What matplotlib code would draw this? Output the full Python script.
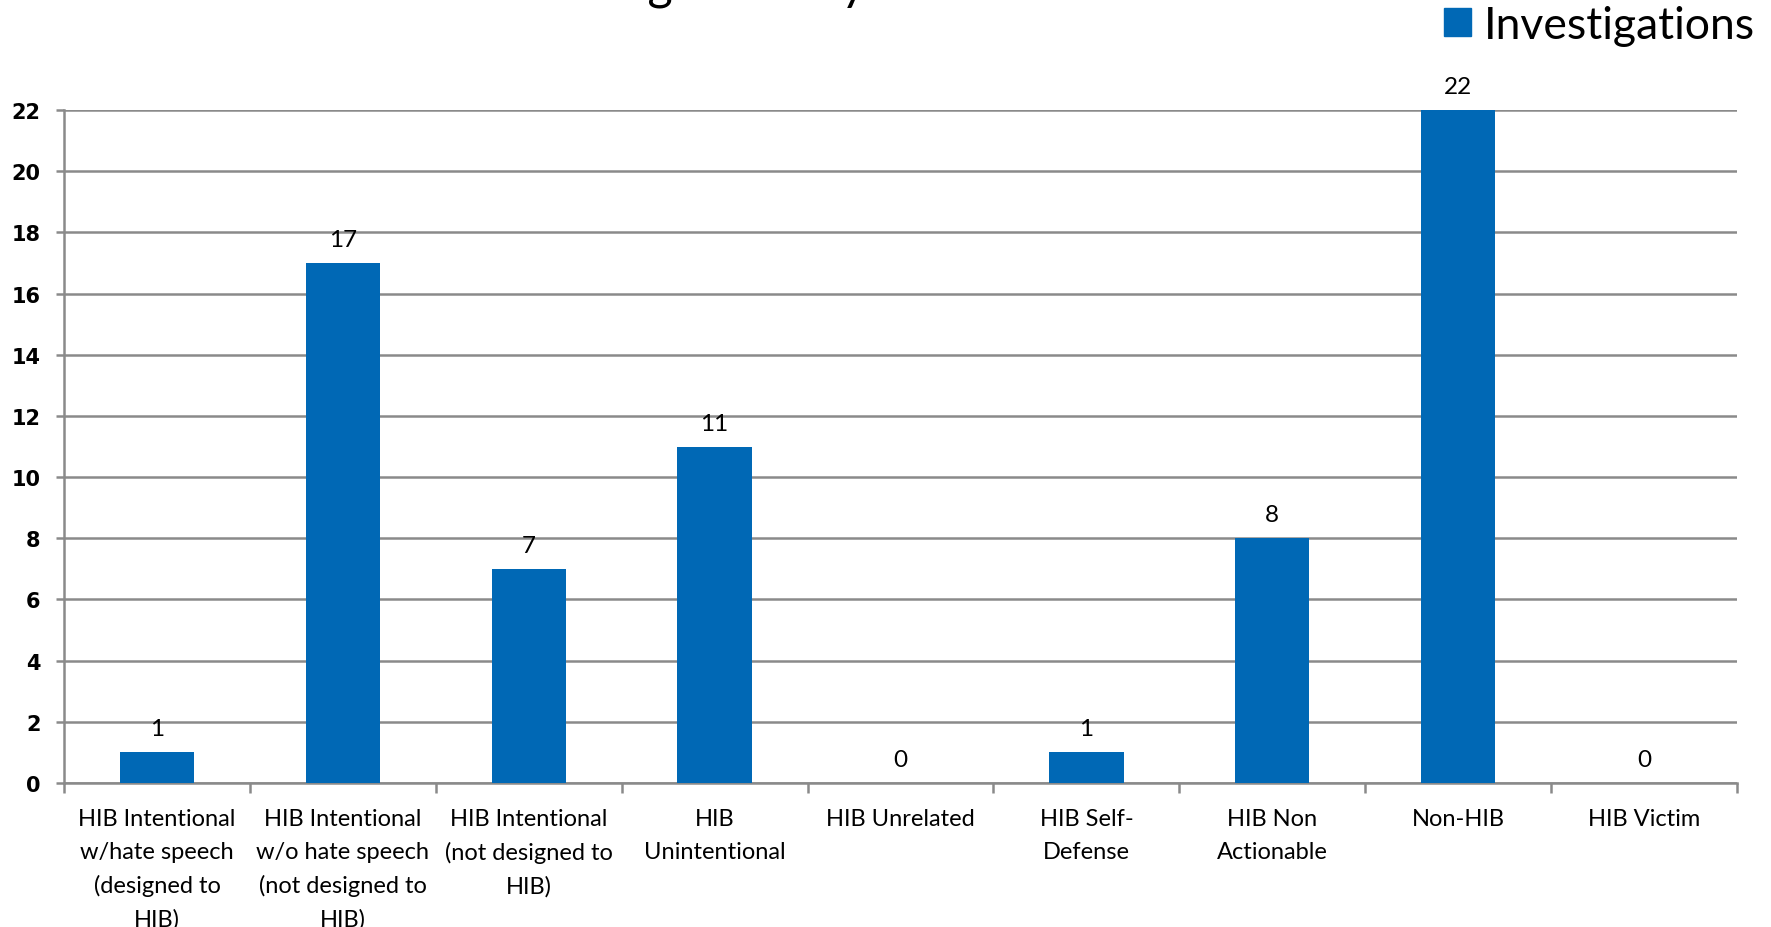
import matplotlib
matplotlib.use("Agg")
import matplotlib.pyplot as plt
from matplotlib.patches import Patch

# Findings per category
categories = [
    "HIB Intentional\nw/hate speech\n(designed to\nHIB)",
    "HIB Intentional\nw/o hate speech\n(not designed to\nHIB)",
    "HIB Intentional\n(not designed to\nHIB)",
    "HIB\nUnintentional",
    "HIB Unrelated",
    "HIB Self-\nDefense",
    "HIB Non\nActionable",
    "Non-HIB",
    "HIB Victim",
]
investigations = [1, 17, 7, 11, 0, 1, 8, 22, 0]
y_ticks = [0, 2, 4, 6, 8, 10, 12, 14, 16, 18, 20, 22]
series_name = "Investigations"
title_text = "Investigations by Outcome"

BAR = "#0068B5"
GRID = "#8A8A8A"
W, H = 1771, 928

fig = plt.figure(figsize=(W / 100, H / 100), dpi=100)
ax = fig.add_axes([64 / W, 1 - 784 / H, (1737 - 64) / W, (784 - 111) / H])

xs = list(range(len(categories)))
ax.bar(xs, investigations, width=0.4, color=BAR, zorder=3)

ax.set_xlim(-0.5, len(categories) - 0.5)
ax.set_ylim(0, 22)

# y axis: bold tick labels and horizontal gridlines
ax.set_yticks(y_ticks)
ax.set_yticklabels([str(v) for v in y_ticks], fontfamily="DejaVu Sans",
                   fontweight="bold", fontsize=15)
ax.yaxis.grid(True, color=GRID, lw=1.8, zorder=0)
ax.set_axisbelow(True)
ax.tick_params(axis="y", length=6, width=1.8, color=GRID, pad=11)

# x axis: tick marks between categories, labels centred under bars
ax.set_xticks([i - 0.5 for i in range(len(categories) + 1)])
ax.set_xticklabels([])
ax.set_xticks(xs, minor=True)
ax.set_xticklabels(categories, minor=True, fontfamily="Lato", fontsize=17,
                   linespacing=1.68, va="top", ha="center")
ax.tick_params(axis="x", which="major", length=7, width=1.8, color=GRID,
               direction="out")
ax.tick_params(axis="x", which="minor", length=0, pad=18)

for side in ("top", "right"):
    ax.spines[side].set_visible(False)
for side in ("left", "bottom"):
    ax.spines[side].set_color(GRID)
    ax.spines[side].set_linewidth(1.8)

# value labels above each bar
for x, v in zip(xs, investigations):
    ax.annotate(str(v), (x, v), xytext=(0, 12.2), textcoords="offset points",
                ha="center", va="baseline", fontsize=17.5, fontfamily="Lato")

# title sitting at the very top edge of the figure
fig.text(506 / W, 1.0, title_text, fontsize=35, fontfamily="Lato",
         ha="left", va="baseline")

fig.legend(handles=[Patch(color=BAR, label=series_name)],
           loc="upper right", bbox_to_anchor=(1755 / W, 1 - 6 / H),
           frameon=False, prop={"family": "Lato", "size": 32},
           handlelength=0.6, handleheight=0.6, handletextpad=0.3,
           borderpad=0, borderaxespad=0)

fig.savefig("out.png", dpi=100)
